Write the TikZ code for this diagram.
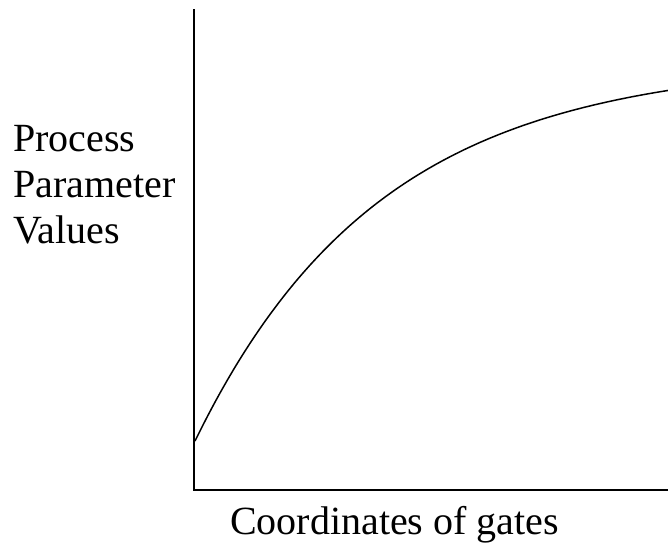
\documentclass[tikz,border=0pt]{standalone}
\usepackage{fontspec}
\setmainfont{Liberation Serif}
\begin{document}
\begin{tikzpicture}[x=1pt,y=-1pt,
  axisline/.style={line width=1.8pt},
  curveline/.style={line width=1.5pt},
  lbl/.style={inner sep=0pt,anchor=base west,font=\fontsize{40}{45}\selectfont}]
\useasboundingbox (0,0) rectangle (668,546);
\coordinate (top) at (194,9);
\coordinate (origin) at (194,490);
\coordinate (right) at (668,490);
\draw[axisline] (top) -- (origin) -- (right);
\draw[curveline] plot[domain=195:668,samples=150,smooth] (\x,{441-380*(1-exp(-(\x-195)/185))});
\node[lbl] (l1) at (13,151) {Process};
\node[lbl] (l2) at (13,197) {Parameter};
\node[lbl] (l3) at (13,243) {Values};
\node[lbl] (xl) at (230,534) {Coordinates of gates};
\end{tikzpicture}
\end{document}
